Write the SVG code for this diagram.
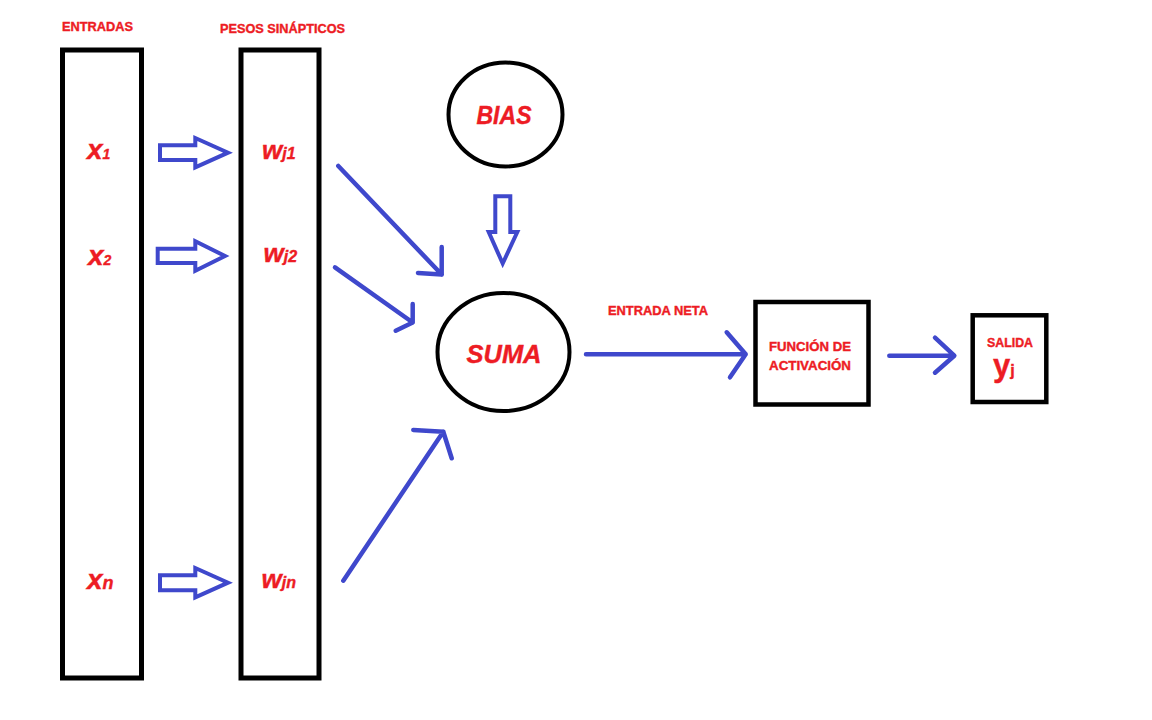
<svg xmlns="http://www.w3.org/2000/svg" width="1152" height="720" viewBox="0 0 1152 720">
<style>
.box{fill:none;stroke:#000;stroke-width:5}
.circ{fill:none;stroke:#000;stroke-width:4}
.lbl{font-family:"Liberation Sans",Arial,sans-serif;font-weight:bold;fill:#ED1C24;stroke:#ED1C24;stroke-width:0.4}
.it{font-style:italic}
.hol{fill:none;stroke:#3F48CC;stroke-width:4;stroke-linejoin:miter}
.ln{fill:none;stroke:#3F48CC;stroke-width:4.5;stroke-linecap:round;stroke-linejoin:round}
</style>
<rect width="1152" height="720" fill="#fff"/>
<g id="entradas">
<rect class="box" x="62.5" y="50" width="79" height="628"/>
<text class="lbl" x="62" y="30.5" font-size="13.5" textLength="71" lengthAdjust="spacingAndGlyphs">ENTRADAS</text>
<text class="lbl it" x="87" y="158.5" font-size="28">x<tspan font-size="14">1</tspan></text>
<text class="lbl it" x="88" y="265" font-size="28">x<tspan font-size="14">2</tspan></text>
<text class="lbl it" x="87" y="589" font-size="28">x<tspan font-size="18">n</tspan></text>
</g>
<g id="pesos">
<rect class="box" x="241" y="50" width="78" height="628"/>
<text class="lbl" x="220" y="32.5" font-size="13.5" textLength="125" lengthAdjust="spacingAndGlyphs">PESOS SINÁPTICOS</text>
<text class="lbl it" x="262" y="159" font-size="26">w<tspan font-size="16">j1</tspan></text>
<text class="lbl it" x="263.5" y="262" font-size="26">w<tspan font-size="16">j2</tspan></text>
<text class="lbl it" x="261.5" y="588" font-size="26">w<tspan font-size="16">jn</tspan></text>
</g>
<g id="bias">
<ellipse class="circ" cx="505.5" cy="114.5" rx="57" ry="52"/>
<text class="lbl it" x="476.5" y="124" font-size="26" textLength="55" lengthAdjust="spacingAndGlyphs">BIAS</text>
</g>
<g id="suma">
<ellipse class="circ" cx="503.5" cy="352" rx="66" ry="59"/>
<text class="lbl it" x="466.5" y="363" font-size="25" textLength="75" lengthAdjust="spacingAndGlyphs">SUMA</text>
</g>
<g id="funcion">
<rect class="box" x="755.5" y="302" width="113" height="102.5" style="stroke-width:4.5"/>
<text class="lbl" x="769" y="350.5" font-size="13" textLength="82" lengthAdjust="spacingAndGlyphs">FUNCIÓN DE</text>
<text class="lbl" x="769" y="370" font-size="13" textLength="82" lengthAdjust="spacingAndGlyphs">ACTIVACIÓN</text>
</g>
<g id="salida">
<rect class="box" x="972.7" y="315.3" width="73.6" height="86.7" style="stroke-width:4.5"/>
<text class="lbl" x="987" y="346.5" font-size="13" textLength="46" lengthAdjust="spacingAndGlyphs">SALIDA</text>
<text class="lbl" x="993" y="376" font-size="31">y<tspan font-size="16">j</tspan></text>
</g>
<g id="connectors">
<polygon class="hol" points="160,145.3 195.3,145.3 195.3,138 228,152.7 195.3,167.3 195.3,160 160,160"/>
<polygon class="hol" points="157.7,248.7 195.3,248.7 195.3,241.3 225,256 195.3,270.7 195.3,263 157.7,263"/>
<polygon class="hol" points="160,575.3 195.3,575.3 195.3,568 228,582.7 195.3,597.3 195.3,590.3 160,590.3"/>
<polygon class="hol" points="495.3,196.3 510.3,196.3 510.3,232 517.3,232 502.7,263.5 488.7,232 495.3,232"/>
<path class="ln" d="M338.3,166 L441.7,274.5 M441.7,247 L441.7,274.5 L418,273"/>
<path class="ln" d="M335,267.3 L412.7,322.5 M412.7,304 L412.7,322.5 L395.7,330.7"/>
<path class="ln" d="M343.3,580.7 L443.3,431.7 M413.3,430 L443.3,431.7 L451.7,458.3"/>
<path class="ln" d="M586,354.3 L745.7,354.3 M726.7,332.3 L745.7,354.3 L730,377.3"/>
<text class="lbl" x="608" y="315" font-size="13" textLength="100" lengthAdjust="spacingAndGlyphs">ENTRADA NETA</text>
<path class="ln" d="M889.3,355.7 L954.3,355.7 M935,337.7 L954.3,355.7 L935,372.7"/>
</g>
</svg>
